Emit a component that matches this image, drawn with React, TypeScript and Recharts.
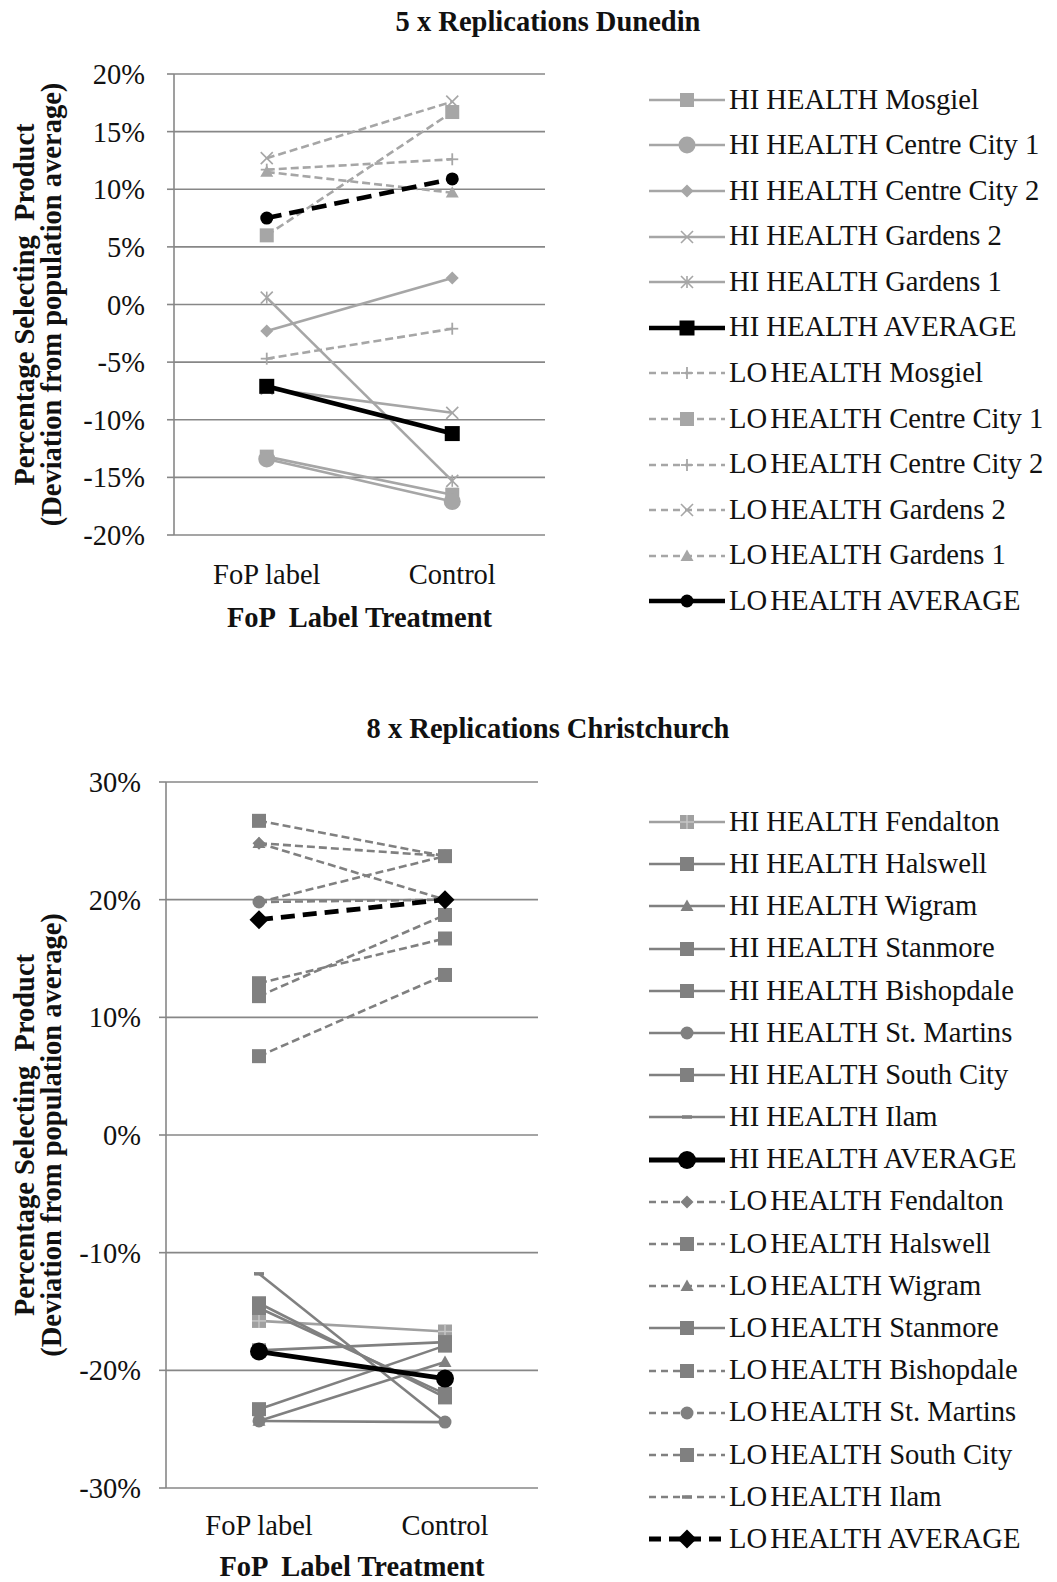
import React from 'react';
import { LineChart, Line, XAxis, YAxis, CartesianGrid, Legend } from 'recharts';

// ---------- data ----------
const categories = ['FoP label', 'Control'];

const dunedinNames = [
  'HI HEALTH Mosgiel',
  'HI HEALTH Centre City 1',
  'HI HEALTH Centre City 2',
  'HI HEALTH Gardens 2',
  'HI HEALTH Gardens 1',
  'HI HEALTH AVERAGE',
  'LO HEALTH Mosgiel',
  'LO HEALTH Centre City 1',
  'LO HEALTH Centre City 2',
  'LO HEALTH Gardens 2',
  'LO HEALTH Gardens 1',
  'LO HEALTH AVERAGE',
];
const dunedinFoP = [-13.2, -13.4, -2.3, -7.3, 0.6, -7.1, -4.7, 6.0, 11.7, 12.7, 11.5, 7.5];
const dunedinControl = [-16.5, -17.1, 2.3, -9.4, -15.3, -11.2, -2.1, 16.7, 12.6, 17.6, 9.7, 10.9];
const dunedinTicks = [-20, -15, -10, -5, 0, 5, 10, 15, 20];

const christchurchNames = [
  'HI HEALTH Fendalton',
  'HI HEALTH Halswell',
  'HI HEALTH Wigram',
  'HI HEALTH Stanmore',
  'HI HEALTH Bishopdale',
  'HI HEALTH St. Martins',
  'HI HEALTH South City',
  'HI HEALTH Ilam',
  'HI HEALTH AVERAGE',
  'LO HEALTH Fendalton',
  'LO HEALTH Halswell',
  'LO HEALTH Wigram',
  'LO HEALTH Stanmore',
  'LO HEALTH Bishopdale',
  'LO HEALTH St. Martins',
  'LO HEALTH South City',
  'LO HEALTH Ilam',
  'LO HEALTH AVERAGE',
];
const christchurchFoP = [
  -15.8, -14.3, -24.3, -14.7, -23.3, -24.3, -18.3, -11.8, -18.4,
  24.8, 26.7, 24.8, 6.7, 12.9, 19.8, 11.8, 19.8, 18.3,
];
const christchurchControl = [
  -16.7, -22.3, -19.3, -22.0, -17.9, -24.4, -17.6, -24.4, -20.7,
  20.0, 23.7, 23.7, 13.6, 16.7, 23.7, 18.7, 20.0, 20.0,
];
const christchurchTicks = [-30, -20, -10, 0, 10, 20, 30];

// ---------- styles ----------
const FONT = '"Liberation Serif", "Times New Roman", serif';
const G1 = '#a6a6a6';
const G2 = '#808080';
const GRID = '#878787';
const DASH = '8 4';
const LDASH = '7 5';
const FS = 28.5;
const W = 1049;

type St = { shape: string; size: number; color: string; width: number; dash?: string; legendDash?: string };

const dunedinStyles: St[] = [
  { shape: 'square', size: 14, color: G1, width: 2.6 },
  { shape: 'circle', size: 17, color: G1, width: 2.6 },
  { shape: 'diamond', size: 13, color: G1, width: 2.6 },
  { shape: 'x', size: 12, color: G1, width: 2.6 },
  { shape: 'star', size: 12, color: G1, width: 2.6 },
  { shape: 'square', size: 15, color: '#000', width: 4.6 },
  { shape: 'plus', size: 12, color: G1, width: 2.6, dash: DASH, legendDash: LDASH },
  { shape: 'square', size: 14, color: G1, width: 2.6, dash: DASH, legendDash: LDASH },
  { shape: 'plus', size: 12, color: G1, width: 2.6, dash: DASH, legendDash: LDASH },
  { shape: 'x', size: 12, color: G1, width: 2.6, dash: DASH, legendDash: LDASH },
  { shape: 'triangle', size: 13, color: G1, width: 2.6, dash: DASH, legendDash: LDASH },
  { shape: 'circle', size: 13, color: '#000', width: 4.6, dash: '15 8', legendDash: '' },
];

const christchurchStyles: St[] = [
  { shape: 'plussquare', size: 14, color: '#a0a0a0', width: 2.6 },
  { shape: 'square', size: 14, color: G2, width: 2.6 },
  { shape: 'triangle', size: 13, color: G2, width: 2.6 },
  { shape: 'square', size: 14, color: G2, width: 2.6 },
  { shape: 'square', size: 14, color: G2, width: 2.6 },
  { shape: 'circle', size: 13, color: G2, width: 2.6 },
  { shape: 'square', size: 14, color: G2, width: 2.6 },
  { shape: 'dash', size: 10, color: G2, width: 2.6 },
  { shape: 'circle', size: 18, color: '#000', width: 4.8 },
  { shape: 'diamond', size: 13, color: G2, width: 2.6, dash: DASH, legendDash: LDASH },
  { shape: 'square', size: 14, color: G2, width: 2.6, dash: DASH, legendDash: LDASH },
  { shape: 'triangle', size: 13, color: G2, width: 2.6, dash: DASH, legendDash: LDASH },
  { shape: 'square', size: 14, color: G2, width: 2.6, dash: DASH, legendDash: '' },
  { shape: 'square', size: 14, color: G2, width: 2.6, dash: DASH, legendDash: LDASH },
  { shape: 'circle', size: 13, color: G2, width: 2.6, dash: DASH, legendDash: LDASH },
  { shape: 'square', size: 14, color: G2, width: 2.6, dash: DASH, legendDash: LDASH },
  { shape: 'dash', size: 10, color: G2, width: 2.6, dash: DASH, legendDash: LDASH },
  { shape: 'diamond', size: 19, color: '#000', width: 4.8, dash: '14 8', legendDash: '12 8' },
];

function buildRows(fop: number[], control: number[]) {
  return categories.map((c, i) => {
    const row: any = { x: i + 0.5, category: c };
    const vals = i === 0 ? fop : control;
    vals.forEach((v, k) => {
      row['s' + k] = v;
    });
    return row;
  });
}

function Marker({ cx, cy, st }: { cx: number; cy: number; st: St }) {
  if (cx == null || cy == null) return null;
  const s = st.size;
  const h = s / 2;
  const c = st.color;
  switch (st.shape) {
    case 'square':
      return <rect x={cx - h} y={cy - h} width={s} height={s} fill={c} />;
    case 'circle':
      return <circle cx={cx} cy={cy} r={h} fill={c} />;
    case 'diamond':
      return <polygon points={`${cx},${cy - h} ${cx + h},${cy} ${cx},${cy + h} ${cx - h},${cy}`} fill={c} />;
    case 'triangle':
      return <polygon points={`${cx},${cy - h} ${cx + h},${cy + h * 0.75} ${cx - h},${cy + h * 0.75}`} fill={c} />;
    case 'x':
      return (
        <g stroke={c} strokeWidth={1.6}>
          <line x1={cx - h} y1={cy - h} x2={cx + h} y2={cy + h} />
          <line x1={cx - h} y1={cy + h} x2={cx + h} y2={cy - h} />
        </g>
      );
    case 'star':
      return (
        <g stroke={c} strokeWidth={1.6}>
          <line x1={cx - h} y1={cy - h} x2={cx + h} y2={cy + h} />
          <line x1={cx - h} y1={cy + h} x2={cx + h} y2={cy - h} />
          <line x1={cx} y1={cy - h} x2={cx} y2={cy + h} />
        </g>
      );
    case 'plus':
      return (
        <g stroke={c} strokeWidth={1.8}>
          <line x1={cx - h} y1={cy} x2={cx + h} y2={cy} />
          <line x1={cx} y1={cy - h} x2={cx} y2={cy + h} />
        </g>
      );
    case 'dash':
      return <line x1={cx - h} y1={cy} x2={cx + h} y2={cy} stroke={c} strokeWidth={3.5} />;
    case 'plussquare':
      return (
        <g>
          <rect x={cx - h} y={cy - h} width={s} height={s} fill={c} />
          <line x1={cx - h} y1={cy} x2={cx + h} y2={cy} stroke="#c8c8c8" strokeWidth={1.4} />
          <line x1={cx} y1={cy - h} x2={cx} y2={cy + h} stroke="#c8c8c8" strokeWidth={1.4} />
        </g>
      );
    default:
      return null;
  }
}

type ChartProps = {
  title: string;
  names: string[];
  fop: number[];
  control: number[];
  styles: St[];
  ticks: number[];
  height: number;
  margin: { top: number; right: number; bottom: number; left: number };
  tickMargin: number;
  catMargin: number;
  axisTitleDy: number;
  titleY: number;
  legendTop: number;
  rowH: number;
};

function LegendName({ name }: { name: string }) {
  if (name.startsWith('LO ')) {
    return (
      <span style={{ whiteSpace: 'pre', lineHeight: 1 }}>
        <span style={{ wordSpacing: '-4px' }}>LO </span>
        {name.slice(3)}
      </span>
    );
  }
  return <span style={{ whiteSpace: 'pre', lineHeight: 1 }}>{name}</span>;
}

function ReplicationChart(p: ChartProps) {
  const rows = buildRows(p.fop, p.control);
  const domain = [p.ticks[0], p.ticks[p.ticks.length - 1]];

  const renderLegend = () => (
    <div style={{ fontFamily: FONT, fontSize: 28.6, color: '#111' }}>
      {p.names.map((n, k) => {
        const st = p.styles[k];
        const ld = st.legendDash !== undefined ? st.legendDash : st.dash;
        return (
          <div key={n} style={{ display: 'flex', alignItems: 'center', height: p.rowH }}>
            <svg width={80} height={26} style={{ display: 'block', flex: '0 0 auto' }}>
              <line x1={0} x2={76} y1={13} y2={13} stroke={st.color} strokeWidth={st.width} strokeDasharray={ld || undefined} />
              <Marker cx={38} cy={13} st={st} />
            </svg>
            <LegendName name={n} />
          </div>
        );
      })}
    </div>
  );

  const yLabel = (props: any) => {
    const vb = props.viewBox || {};
    const cy = (vb.y ?? p.margin.top) + (vb.height ?? 0) / 2;
    const st = { fontFamily: FONT, fontSize: FS, fontWeight: 700, fill: '#111', whiteSpace: 'pre' } as any;
    return (
      <g>
        <text x={16} y={cy} transform={`rotate(-90 16 ${cy})`} textAnchor="middle" dominantBaseline="central" style={st}>
          Percentage Selecting  Product
        </text>
        <text x={43} y={cy} transform={`rotate(-90 43 ${cy})`} textAnchor="middle" dominantBaseline="central" style={st}>
          (Deviation from population average)
        </text>
      </g>
    );
  };

  const xLabel = (props: any) => {
    const vb = props.viewBox || {};
    return (
      <text
        x={vb.x + vb.width / 2}
        y={vb.y + p.axisTitleDy}
        textAnchor="middle"
        dominantBaseline="central"
        style={{ fontFamily: FONT, fontSize: FS, fontWeight: 700, fill: '#111', whiteSpace: 'pre' } as any}
      >
        FoP  Label Treatment
      </text>
    );
  };

  return (
    <div style={{ position: 'relative', width: W, height: p.height }}>
      <div
        style={{
          position: 'absolute',
          left: 0,
          width: 1080,
          top: p.titleY - 16,
          height: 32,
          lineHeight: '32px',
          textAlign: 'center',
          fontFamily: FONT,
          fontSize: 28.5,
          fontWeight: 700,
          color: '#111',
          zIndex: 2,
        }}
      >
        {p.title}
      </div>
      <LineChart width={W} height={p.height} data={rows} margin={p.margin}>
        <CartesianGrid vertical={false} stroke={GRID} strokeWidth={1.6} />
        <XAxis
          xAxisId="main"
          dataKey="x"
          type="number"
          domain={[0, 2]}
          ticks={[0, 1, 2]}
          tickFormatter={() => ''}
          height={0}
          tickSize={7}
          axisLine={{ stroke: GRID, strokeWidth: 1.6 }}
          tickLine={{ stroke: GRID, strokeWidth: 1.6 }}
        />
        <XAxis
          xAxisId="lab"
          dataKey="x"
          type="number"
          domain={[0, 2]}
          ticks={[0.5, 1.5]}
          tickFormatter={(v: number) => categories[Math.floor(v)]}
          height={80}
          axisLine={false}
          tickLine={false}
          tickSize={6}
          tickMargin={p.catMargin}
          tick={{ fill: '#111', fontSize: FS, fontFamily: FONT }}
          label={{ content: xLabel }}
        />
        <YAxis
          type="number"
          domain={domain}
          ticks={p.ticks}
          width={80}
          interval={0}
          tickFormatter={(v: number) => `${v}%`}
          tickSize={7}
          tickMargin={p.tickMargin}
          axisLine={{ stroke: GRID, strokeWidth: 1.6 }}
          tickLine={{ stroke: GRID, strokeWidth: 1.6 }}
          tick={{ fill: '#111', fontSize: FS, fontFamily: FONT }}
          label={{ content: yLabel }}
        />
        <Legend
          layout="vertical"
          align="center"
          verticalAlign="middle"
          content={renderLegend}
          wrapperStyle={{ left: 641, top: p.legendTop, width: W - 641 }}
        />
        {p.names.map((n, k) => {
          const st = p.styles[k];
          return (
            <Line
              key={n}
              xAxisId="main"
              name={n}
              dataKey={'s' + k}
              stroke={st.color}
              strokeWidth={st.width}
              strokeDasharray={st.dash}
              dot={(dp: any) => <Marker key={n + dp.index} cx={dp.cx} cy={dp.cy} st={st} />}
              activeDot={false}
              isAnimationActive={false}
            />
          );
        })}
      </LineChart>
    </div>
  );
}

export default function App() {
  return (
    <div style={{ width: W, fontFamily: FONT }}>
      <style>{'html, body { overflow: hidden; }'}</style>
      <ReplicationChart
        title="5 x Replications Dunedin"
        names={dunedinNames}
        fop={dunedinFoP}
        control={dunedinControl}
        styles={dunedinStyles}
        ticks={dunedinTicks}
        height={690}
        margin={{ top: 66, right: W - 537, bottom: 690 - 527 - 80, left: 86 }}
        tickMargin={22}
        catMargin={23}
        axisTitleDy={82}
        titleY={14}
        legendTop={69}
        rowH={45.6}
      />
      <ReplicationChart
        title="8 x Replications Christchurch"
        names={christchurchNames}
        fop={christchurchFoP}
        control={christchurchControl}
        styles={christchurchStyles}
        ticks={christchurchTicks}
        height={884}
        margin={{ top: 84, right: W - 530, bottom: 884 - 790 - 80, left: 78 }}
        tickMargin={18}
        catMargin={21}
        axisTitleDy={78}
        titleY={31}
        legendTop={103}
        rowH={42.2}
      />
    </div>
  );
}
